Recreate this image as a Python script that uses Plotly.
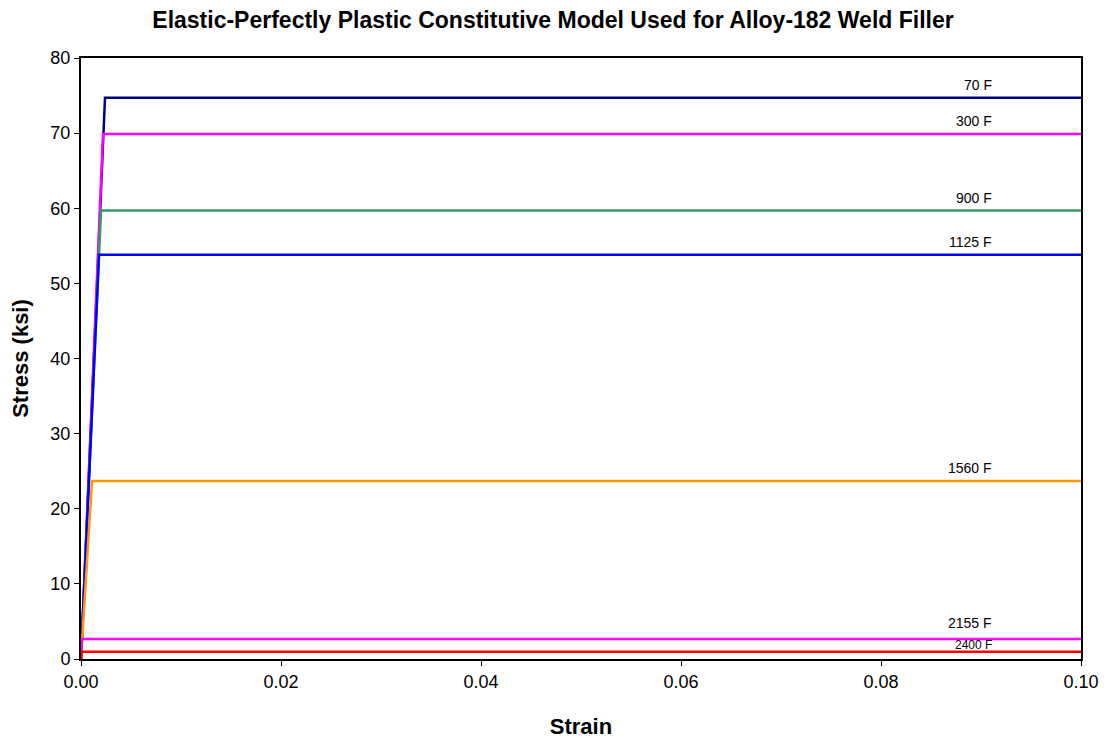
import plotly.graph_objects as go

# Alloy-182 weld filler: elastic-perfectly plastic curves per temperature
temperatures = ["70 F", "300 F", "900 F", "1125 F", "1560 F", "2155 F", "2400 F"]
yield_stress_ksi = [74.7, 69.9, 59.7, 53.8, 23.7, 2.65, 0.95]
yield_strain = [0.0024, 0.0022, 0.0020, 0.0018, 0.0011, 0.0001, 0.00005]
max_strain = 0.10

line_colors = ["#000080", "#FF00FF", "#339966", "#0000FF", "#FF9900", "#FF00FF", "#FF0000"]
label_font_size = [14, 14, 14, 14, 14, 14, 12]
label_yshift = [3, 3, 3, 3, 3, 6, -2]

FONT = "Liberation Sans, Arial, sans-serif"

fig = go.Figure()
for name, sy, ey, col in zip(temperatures, yield_stress_ksi, yield_strain, line_colors):
    fig.add_trace(go.Scatter(
        x=[0.0, ey, max_strain],
        y=[0.0, sy, sy],
        mode="lines",
        name=name,
        line=dict(color=col, width=2.5),
        showlegend=False,
        hoverinfo="skip",
    ))

for name, sy, fs, ys in zip(temperatures, yield_stress_ksi, label_font_size, label_yshift):
    fig.add_annotation(
        x=0.0913, y=sy, xref="x", yref="y",
        text=name, showarrow=False,
        xanchor="right", yanchor="bottom", yshift=ys,
        font=dict(family=FONT, size=fs, color="black"),
    )

fig.update_layout(
    width=1106, height=743,
    margin=dict(l=81, r=25, t=58, b=84),
    paper_bgcolor="white", plot_bgcolor="white",
    title=dict(
        text="<b>Elastic-Perfectly Plastic Constitutive Model Used for Alloy-182 Weld Filler</b>",
        x=0.5, xanchor="center", y=0.973, yanchor="middle",
        font=dict(family=FONT, size=23, color="black"),
    ),
    font=dict(family=FONT, color="black"),
)

fig.update_xaxes(
    range=[0, max_strain], dtick=0.02, tickformat=".2f",
    showgrid=False, zeroline=False, automargin=False,
    showline=True, linecolor="black", linewidth=2, mirror=True,
    ticks="outside", ticklen=5, tickcolor="black", tickwidth=1,
    tickfont=dict(family=FONT, size=18, color="black"),
    title=dict(text="<b>Strain</b>", font=dict(family=FONT, size=22, color="black"), standoff=28),
)
fig.update_yaxes(
    range=[0, 80], dtick=10,
    showgrid=False, zeroline=False, automargin=False,
    showline=True, linecolor="black", linewidth=2, mirror=True,
    ticks="outside", ticklen=5, tickcolor="black", tickwidth=1,
    tickfont=dict(family=FONT, size=18, color="black"),
    title=dict(text="<b>Stress (ksi)</b>", font=dict(family=FONT, size=22, color="black"), standoff=16),
)

fig.write_html("out.html")
